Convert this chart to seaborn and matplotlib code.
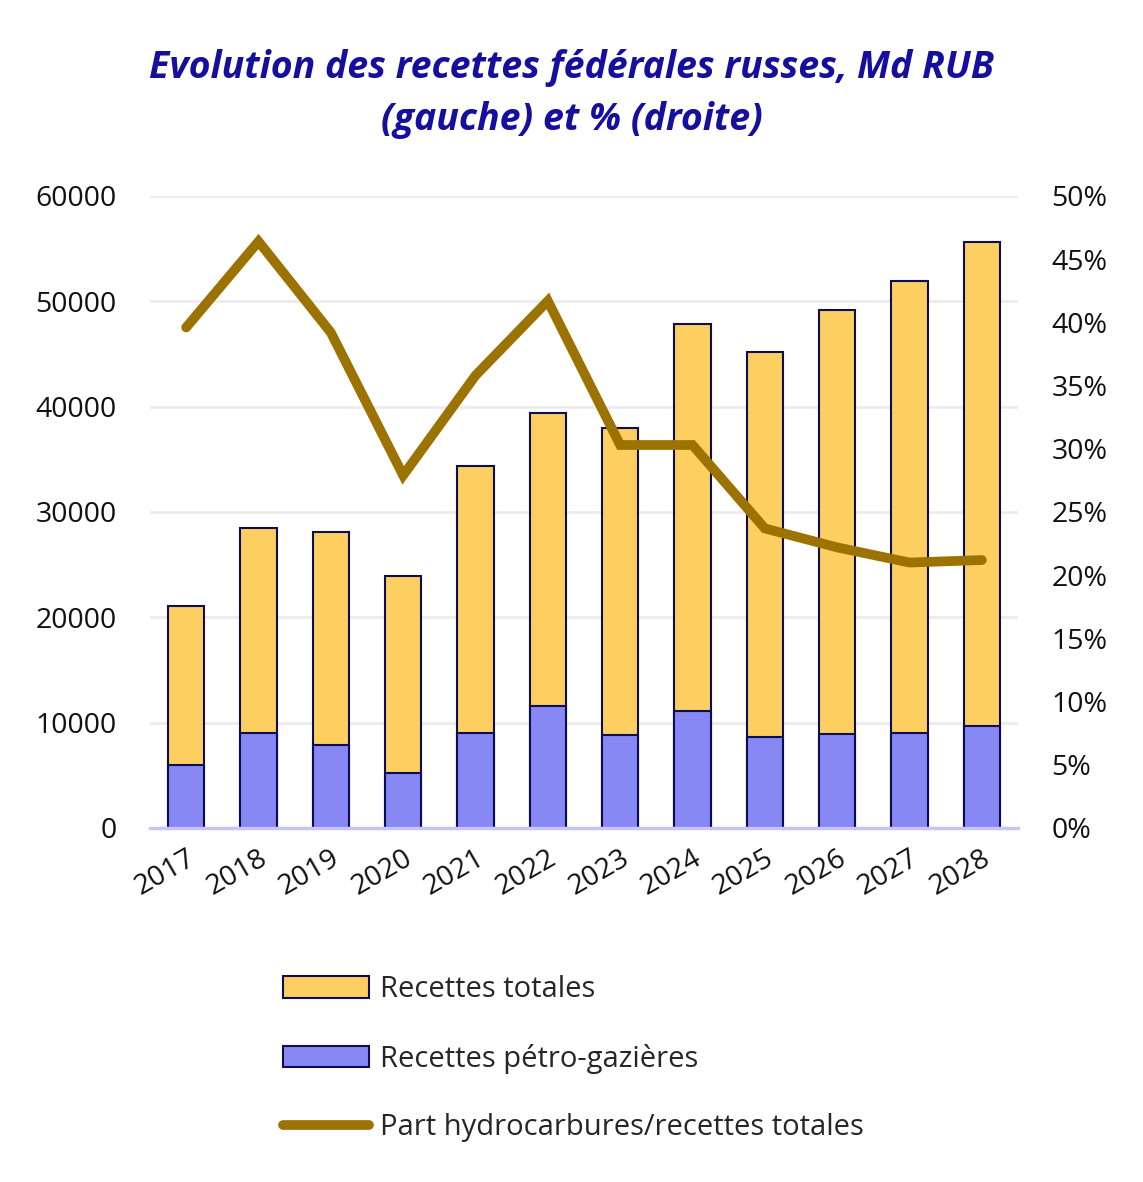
import numpy as np
import pandas as pd
import matplotlib
matplotlib.use("Agg")
import matplotlib.pyplot as plt
import seaborn as sns
from matplotlib.patches import Patch
from matplotlib.lines import Line2D
from matplotlib.ticker import FuncFormatter

years = ["2017", "2018", "2019", "2020", "2021", "2022", "2023", "2024", "2025", "2026", "2027", "2028"]
recettes_totales = [21080, 28500, 28100, 23900, 34400, 39400, 38000, 47850, 45200, 49200, 51950, 55650]
recettes_petro = [6000, 9000, 7900, 5200, 9000, 11600, 8850, 11100, 8650, 8950, 9020, 9700]
part_hydro = [39.6, 46.4, 39.2, 27.9, 35.8, 41.7, 30.3, 30.3, 23.7, 22.2, 21.0, 21.2]

sns.set_theme(style="white")
plt.rcParams['font.family'] = ['Open Sans', 'DejaVu Sans']

df = pd.DataFrame({"annee": years, "total": recettes_totales, "petro": recettes_petro,
                   "part": part_hydro})

fig = plt.figure(figsize=(11.43, 11.82), dpi=100)
ax = fig.add_axes([150/1143, 1 - 828/1182, (1018-150)/1143, (828-196)/1182])

yellow = "#FDCF60"
blue = "#8888F5"
edge = "#0d0d55"
linec = "#9C7300"
tickfs = 20.5

sns.barplot(data=df, x="annee", y="total", color=yellow, edgecolor=edge, linewidth=1.5,
            width=0.5, saturation=1, ax=ax)
sns.barplot(data=df, x="annee", y="petro", color=blue, edgecolor=edge, linewidth=1.5,
            width=0.5, saturation=1, ax=ax)

ax.set_ylim(0, 60000)
ax.set_xlim(-0.5, 11.5)
ax.set_yticks(np.arange(0, 60001, 10000))
ax.yaxis.grid(True, color="#ececec", linewidth=2)
ax.set_axisbelow(True)
for s in ["top", "right", "left"]:
    ax.spines[s].set_visible(False)
ax.spines["bottom"].set_color("#c8c4f8")
ax.spines["bottom"].set_linewidth(2.5)
ax.set_xlabel("")
ax.set_ylabel("")
ax.tick_params(axis="y", labelsize=tickfs, pad=24, length=0, colors="#111111")
ax.tick_params(axis="x", labelsize=tickfs, length=0, pad=12, colors="#111111")
plt.setp(ax.get_xticklabels(), rotation=30, ha="right", rotation_mode="anchor")

ax2 = ax.twinx()
sns.lineplot(x=np.arange(len(years)), y=df["part"], color=linec, linewidth=7,
             solid_capstyle="round", solid_joinstyle="miter", ax=ax2)
ax2.set_ylim(0, 50)
ax2.set_yticks(np.arange(0, 51, 5))
ax2.yaxis.set_major_formatter(FuncFormatter(lambda v, p: f"{int(v)}%"))
ax2.tick_params(axis="y", labelsize=tickfs, pad=24, length=0, colors="#111111")
ax2.set_ylabel("")
for s in ["top", "right", "left", "bottom"]:
    ax2.spines[s].set_visible(False)
ax2.grid(False)

fig.text(0.5, 1 - 94/1182, "Evolution des recettes fédérales russes, Md RUB\n(gauche) et % (droite)",
         ha="center", va="center", fontsize=27, fontweight="bold", fontstyle="italic",
         color="#150FA0", linespacing=1.5)

handles = [Patch(facecolor=yellow, edgecolor=edge, linewidth=1.5),
           Patch(facecolor=blue, edgecolor=edge, linewidth=1.5),
           Line2D([0], [0], color=linec, linewidth=7, solid_capstyle="round")]
labels = ["Recettes totales", "Recettes pétro-gazières", "Part hydrocarbures/recettes totales"]
fig.legend(handles, labels, loc="upper left", bbox_to_anchor=(257/1143, 1 - 949/1182),
           frameon=False, fontsize=21, handlelength=2.95, handleheight=0.75,
           labelspacing=1.35, handletextpad=0.35)

fig.savefig("out.png", dpi=100, facecolor="white")
